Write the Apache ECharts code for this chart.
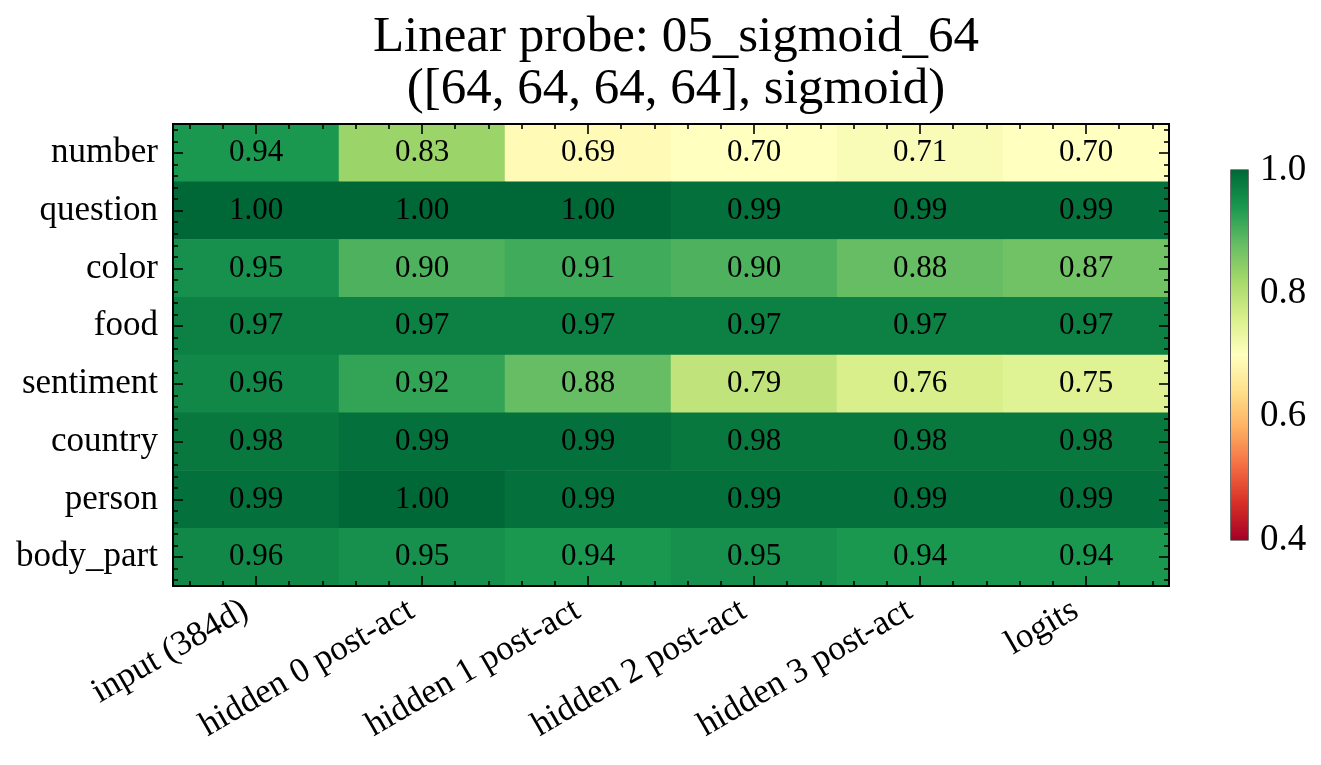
<!DOCTYPE html>
<html>
<head>
<meta charset="utf-8">
<script src="https://cdn.jsdelivr.net/npm/echarts@6/dist/echarts.min.js"></script>
<style>html,body{margin:0;padding:0;background:#fff}#c{width:1321px;height:765px}</style>
</head>
<body>
<div id="c"></div>
<script>
const layers = ['input (384d)', 'hidden 0 post-act', 'hidden 1 post-act', 'hidden 2 post-act', 'hidden 3 post-act', 'logits'];
const concepts = ['number', 'question', 'color', 'food', 'sentiment', 'country', 'person', 'body_part'];
const accNumber    = [0.94, 0.83, 0.69, 0.70, 0.71, 0.70];
const accQuestion  = [1.00, 1.00, 1.00, 0.99, 0.99, 0.99];
const accColor     = [0.95, 0.90, 0.91, 0.90, 0.88, 0.87];
const accFood      = [0.97, 0.97, 0.97, 0.97, 0.97, 0.97];
const accSentiment = [0.96, 0.92, 0.88, 0.79, 0.76, 0.75];
const accCountry   = [0.98, 0.99, 0.99, 0.98, 0.98, 0.98];
const accPerson    = [0.99, 1.00, 0.99, 0.99, 0.99, 0.99];
const accBodyPart  = [0.96, 0.95, 0.94, 0.95, 0.94, 0.94];
const colorbarTicks = [0.4, 0.6, 0.8, 1.0];
const titleLines = ['Linear probe: 05_sigmoid_64', '([64, 64, 64, 64], sigmoid)'];
const rdYlGn = ['#a50026','#d73027','#f46d43','#fdae61','#fee08b','#ffffbf','#d9ef8b','#a6d96a','#66bd63','#1a9850','#006837'];
const vmin = 0.4, vmax = 1.0;

const rows = [accNumber, accQuestion, accColor, accFood, accSentiment, accCountry, accPerson, accBodyPart];
const cells = [];
rows.forEach((r, yi) => r.forEach((v, xi) => cells.push([xi, yi, v])));

// tick positions in cell-edge units
function majors(n) { const a = []; for (let i = 0; i < n; i++) a.push(i + 0.5); return a; }
function minors(n) { const a = []; for (let k = 0; k < n * 5; k++) { const v = (k + 0.5) / 5; if (Math.abs((v % 1) - 0.5) > 1e-6) a.push(+v.toFixed(3)); } return a; }

const FONT = '"Liberation Serif", "DejaVu Serif", serif';
const G = { left: 173, top: 124, width: 996, height: 462 };

function tickAxis(gi, pos, n, vals, len) {
  return {
    type: 'value', gridIndex: gi, position: pos, min: 0, max: n, z: 10,
    axisLine: { show: false, onZero: false }, splitLine: { show: false },
    axisLabel: { show: false },
    axisTick: { show: true, inside: true, length: len, customValues: vals, lineStyle: { color: '#000', width: 1.6 } }
  };
}

const chart = echarts.init(document.getElementById('c'));
chart.setOption({
  backgroundColor: '#fff',
  animation: false,
  title: {
    text: titleLines.join('\n'),
    left: G.left + G.width / 2, textAlign: 'center', top: 7,
    textStyle: { fontFamily: FONT, fontSize: 51, fontWeight: 'normal', color: '#000', lineHeight: 52 }
  },
  grid: [
    Object.assign({ show: true, borderColor: '#000', borderWidth: 2, backgroundColor: 'transparent', z: 5 }, G),
    { left: 1231, top: 170, width: 17, height: 370, show: true, borderColor: '#111', borderWidth: 1.2 },
    Object.assign({ show: false }, G),
    Object.assign({ show: false }, G)
  ],
  visualMap: {
    show: false, type: 'continuous', min: vmin, max: vmax, dimension: 2, seriesIndex: 0,
    inRange: { color: rdYlGn }
  },
  xAxis: [
    {
      type: 'category', gridIndex: 0, data: layers, position: 'bottom',
      axisLine: { show: false }, axisTick: { show: false }, splitLine: { show: false },
      axisLabel: { rotate: 30, margin: 16, padding: [0, 12, 0, 0], fontFamily: FONT, fontSize: 35, color: '#000', interval: 0 }
    },
    { type: 'category', gridIndex: 1, data: ['cb'], show: false },
    tickAxis(2, 'bottom', 6, majors(6), 10),
    tickAxis(2, 'top', 6, majors(6), 10),
    tickAxis(3, 'bottom', 6, minors(6), 5),
    tickAxis(3, 'top', 6, minors(6), 5)
  ],
  yAxis: [
    {
      type: 'category', gridIndex: 0, data: concepts, inverse: true,
      axisLine: { show: false }, axisTick: { show: false }, splitLine: { show: false },
      axisLabel: { margin: 15, padding: [7, 0, 0, 0], fontFamily: FONT, fontSize: 35, color: '#000', interval: 0 }
    },
    {
      type: 'value', gridIndex: 1, position: 'right', min: vmin, max: vmax,
      axisTick: { show: false, customValues: colorbarTicks }, axisLine: { show: false, onZero: false }, splitLine: { show: false },
      axisLabel: { customValues: colorbarTicks, margin: 12, padding: [6, 0, 0, 0], fontFamily: FONT, fontSize: 37, color: '#000', formatter: v => v.toFixed(1) }
    },
    tickAxis(2, 'left', 8, majors(8), 10),
    tickAxis(2, 'right', 8, majors(8), 10),
    tickAxis(3, 'left', 8, minors(8), 5),
    tickAxis(3, 'right', 8, minors(8), 5)
  ],
  series: [
    {
      type: 'heatmap', xAxisIndex: 0, yAxisIndex: 0, data: cells, z: 1,
      label: { show: true, padding: [5, 0, 0, 0], fontFamily: FONT, fontSize: 31, color: '#000', formatter: p => p.value[2].toFixed(2) },
      itemStyle: { borderWidth: 0 }, emphasis: { disabled: true }
    },
    {
      type: 'bar', xAxisIndex: 1, yAxisIndex: 1, data: [vmax], barWidth: '100%', silent: true,
      itemStyle: {
        color: new echarts.graphic.LinearGradient(0, 1, 0, 0, rdYlGn.map((c, i) => ({ offset: i / (rdYlGn.length - 1), color: c })))
      }
    }
  ]
});
</script>
</body>
</html>
